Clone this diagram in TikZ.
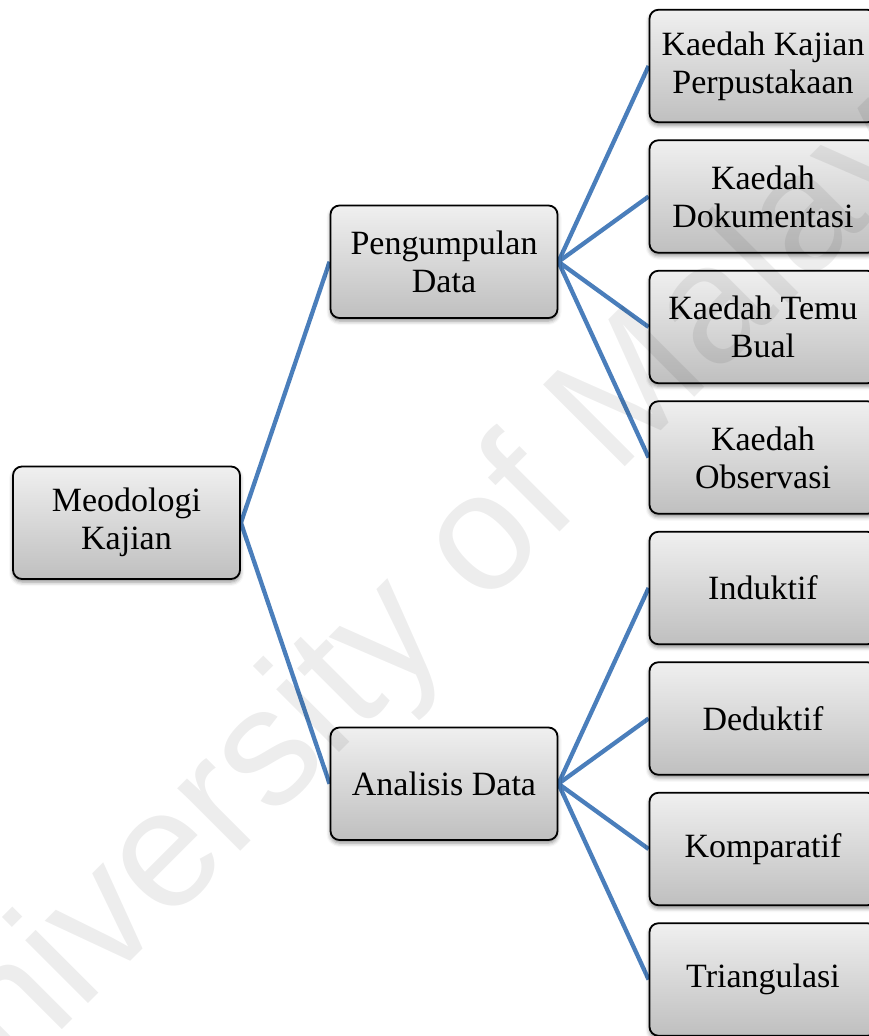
\documentclass[tikz,border=0pt]{standalone}
\usepackage{fontspec}
\setmainfont{Liberation Serif}
\newfontfamily\wmfont{Liberation Sans}
\usetikzlibrary{shadows.blur,backgrounds}
\definecolor{linkblue}{RGB}{74,126,187}
\begin{document}
\begin{tikzpicture}[x=1pt,y=-1pt,
  box/.style={draw=black, line width=1.8pt, rounded corners=9pt,
    top color=gray!12, bottom color=gray!50,
    minimum width=227pt, minimum height=112.5pt, align=center, inner sep=0pt,
    font=\fontsize{34}{38}\selectfont,
    blur shadow={shadow xshift=0pt, shadow yshift=-3pt, shadow blur radius=4pt, shadow opacity=45}},
  link/.style={draw=linkblue, line width=4.3pt},
  watermark/.style={rotate=45, anchor=base west, inner sep=0pt, text=black, opacity=0.07,
    font=\fontsize{168}{168}\wmfont}]
\useasboundingbox (0,0) rectangle (869,1036);
\node[box] (root) at (126.5,522.75) {Meodologi\\Kajian};
\node[box] (pd) at (444,261.75) {Pengumpulan\\Data};
\node[box] (ad) at (444,783.75) {Analisis Data};
\node[box] (k1) at (763,66) {Kaedah Kajian\\Perpustakaan};
\node[box] (k2) at (763,196.5) {Kaedah\\Dokumentasi};
\node[box] (k3) at (763,327) {Kaedah Temu\\Bual};
\node[box] (k4) at (763,457.5) {Kaedah\\Observasi};
\node[box] (a1) at (763,588) {Induktif};
\node[box] (a2) at (763,718.5) {Deduktif};
\node[box] (a3) at (763,849) {Komparatif};
\node[box] (a4) at (763,979.5) {Triangulasi};
\begin{pgfonlayer}{background}
\draw[link] (root.east) -- (pd.west);
\draw[link] (root.east) -- (ad.west);
\foreach \t in {k1,k2,k3,k4} \draw[link] (pd.east) -- (\t.west);
\foreach \t in {a1,a2,a3,a4} \draw[link] (ad.east) -- (\t.west);
\end{pgfonlayer}
\node[watermark] (wm) at (-71,1163) {University of Malaya};
\end{tikzpicture}
\end{document}
